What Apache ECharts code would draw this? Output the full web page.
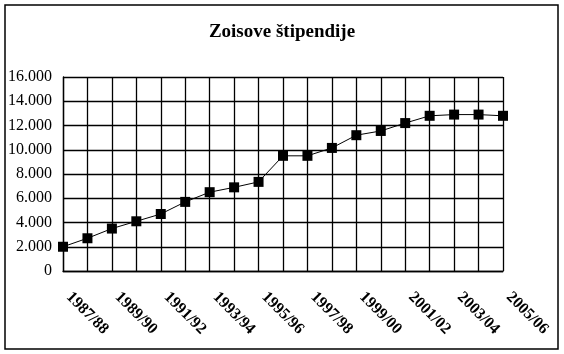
<!DOCTYPE html>
<html>
<head>
<meta charset="utf-8">
<script src="https://cdn.jsdelivr.net/npm/echarts@6/dist/echarts.min.js"></script>
<style>html,body{margin:0;padding:0;background:#fff;}#c{width:564px;height:354px;}</style>
</head>
<body>
<div id="c"></div>
<script>
const categories = ['1987/88','1988/89','1989/90','1990/91','1991/92','1992/93','1993/94','1994/95','1995/96','1996/97','1997/98','1998/99','1999/00','2000/01','2001/02','2002/03','2003/04','2004/05','2005/06'];
const values = [2000,2700,3500,4100,4700,5700,6500,6900,7350,9500,9500,10150,11200,11550,12200,12800,12900,12900,12800];
const yTicks = {min:0, max:16000, interval:2000};

const chart = echarts.init(document.getElementById('c'), null, {renderer:'canvas'});
const serif = '"Liberation Serif","Times New Roman",serif';
chart.setOption({
  animation:false,
  backgroundColor:'#fff',
  title:{text:'Zoisove štipendije', left:'center', top:18, textStyle:{fontFamily:serif, fontWeight:'bold', fontSize:19, color:'#000'}},
  graphic:[{type:'rect', shape:{x:5,y:5,width:553,height:344}, style:{fill:'none', stroke:'#000', lineWidth:1.5}, silent:true}],
  grid:{left:63, right:61, top:77, bottom:83},
  xAxis:{type:'category', data:categories, boundaryGap:false,
    axisLine:{lineStyle:{color:'#000', width:1.3}}, axisTick:{show:false},
    splitLine:{show:true, interval:0, lineStyle:{color:'#000', width:1.3}},
    axisLabel:{interval:1, rotate:-45, margin:18, padding:[0,0,0,8], fontFamily:serif, fontSize:16, fontWeight:'bold', color:'#000'}},
  yAxis:{type:'value', min:yTicks.min, max:yTicks.max, interval:yTicks.interval,
    axisLine:{show:true, lineStyle:{color:'#000', width:1.3}}, axisTick:{show:false},
    splitLine:{lineStyle:{color:'#000', width:1.3}},
    axisLabel:{margin:11, fontFamily:serif, fontSize:16, color:'#000',
      formatter:v=>v===0?'0':v.toLocaleString('de-DE').replace(',', '.')}},
  series:[{type:'line', data:values, symbol:'rect', symbolSize:10, itemStyle:{color:'#000'}, lineStyle:{color:'#000', width:1}}]
});
</script>
</body>
</html>
